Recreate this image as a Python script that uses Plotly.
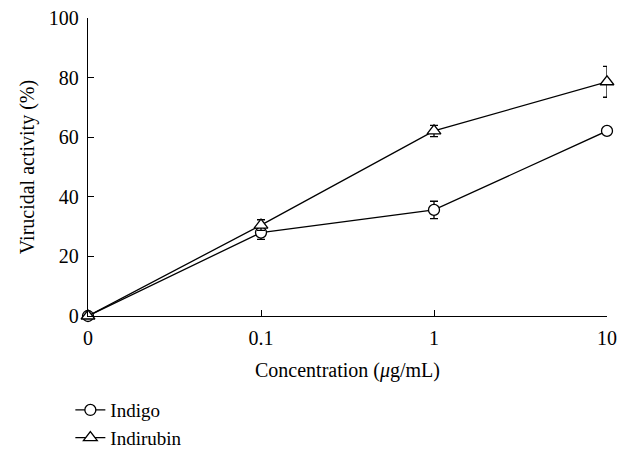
import plotly.graph_objects as go

concentrations = ["0", "0.1", "1", "10"]
indigo = [0, 28.0, 35.6, 62.1]
indigo_err = [0, 2.3, 2.9, 0]
indirubin = [0, 30.5, 62.1, 78.6]
indirubin_err = [0, 1.8, 1.9, 5.2]

FONT = "Liberation Serif"

fig = go.Figure()
fig.add_trace(go.Scatter(
    x=concentrations, y=indigo, name="Indigo", mode="lines+markers",
    line=dict(color="black", width=1.3),
    marker=dict(symbol="circle", size=11, color="white", line=dict(width=1.3, color="black")),
    error_y=dict(type="data", array=indigo_err, color="black", thickness=1.3, width=4),
    cliponaxis=False,
))
fig.add_trace(go.Scatter(
    x=concentrations, y=indirubin, name="Indirubin", mode="lines+markers",
    line=dict(color="black", width=1.3),
    marker=dict(symbol="triangle-up", size=12, color="white", line=dict(width=1.3, color="black")),
    error_y=dict(type="data", array=indirubin_err, color="black", thickness=1.3, width=4),
    cliponaxis=False,
))

fig.update_layout(
    width=627, height=454,
    margin=dict(l=88, r=20, t=18, b=138, autoexpand=False),
    paper_bgcolor="white", plot_bgcolor="white",
    font=dict(family=FONT, size=20, color="black"),
    showlegend=True,
    legend=dict(
        x=-0.034, y=-0.252, xanchor="left", yanchor="top",
        font=dict(family=FONT, size=19, color="black"),
        tracegroupgap=0, itemwidth=30,
    ),
    xaxis=dict(
        type="category", range=[0, 3],
        showline=True, linecolor="black", linewidth=1.3,
        ticks="inside", ticklen=6, tickcolor="black", tickwidth=1,
        showgrid=False, zeroline=False, ticklabelstandoff=4,
        title=dict(text="Concentration (<i>μ</i>g/mL)", font=dict(size=20), standoff=14),
        tickfont=dict(size=20),
    ),
    yaxis=dict(
        range=[0, 100], tickvals=[0, 20, 40, 60, 80, 100],
        showline=True, linecolor="black", linewidth=1.3,
        ticks="inside", ticklen=6, tickcolor="black", tickwidth=1,
        showgrid=False, zeroline=False, ticklabelstandoff=4,
        title=dict(text="Virucidal activity (%)", font=dict(size=20), standoff=8),
        tickfont=dict(size=20),
    ),
)

fig.write_html("out.html", config={"displayModeBar": False},
               post_script="document.body.style.margin='0';")
